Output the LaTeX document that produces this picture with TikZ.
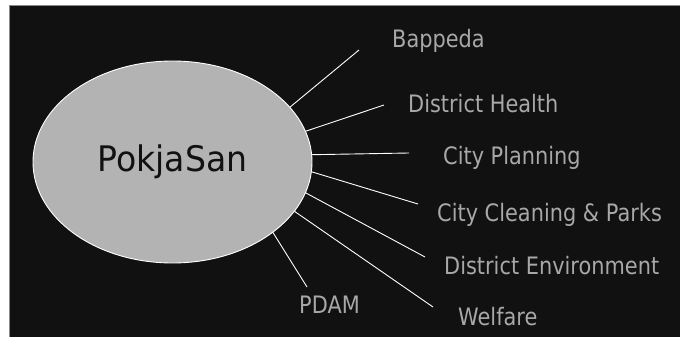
\documentclass[tikz,border=0pt]{standalone}
\usepackage{fontspec}
\newfontfamily\labelfont{DejaVu Sans}[FakeStretch=0.87]
\newfontfamily\titlefont{DejaVu Sans}[FakeStretch=0.94]
\usetikzlibrary{shapes.geometric}
\definecolor{panel}{HTML}{111111}
\definecolor{frameline}{HTML}{8A8A8A}
\definecolor{bubble}{HTML}{B3B3B3}
\definecolor{labeltext}{HTML}{A8A8A8}
\begin{document}
\begin{tikzpicture}[x=1pt,y=-1pt,
  member/.style={anchor=base west,inner sep=0pt,text=labeltext,
    font=\labelfont\fontsize{24}{28}\selectfont},
  spoke/.style={draw=white,line width=0.9pt},
  hub/.style={ellipse,draw=white,line width=0.9pt,fill=bubble,
    minimum width=279pt,minimum height=202pt,inner sep=0pt,outer sep=0pt,
    text=panel,font=\titlefont\fontsize{35.2}{40}\selectfont}]
  \useasboundingbox (0,0) rectangle (680,337);
  \clip (0,0) rectangle (680,337);
  % dark panel
  \fill[white] (0,0) rectangle (680,337);
  \draw[fill=panel,draw=frameline,line width=1pt] (9.5,5.5) rectangle (690,345);

  % central group
  \node[hub] (pk) at (172.5,162) {PokjaSan};

  % member agencies
  \node[member] (bappeda) at (392,48) {Bappeda};
  \node[member] (health)  at (408,112) {District Health};
  \node[member] (plan)    at (443,164) {City Planning};
  \node[member] (clean)   at (437,221) {City Cleaning \& Parks};
  \node[member] (env)     at (444,274) {District Environment};
  \node[member] (welfare) at (458,325) {Welfare};
  \node[member] (pdam)    at (299,313) {PDAM};

  % free ends of the spokes, just short of each label
  \coordinate (e1) at (359,50);
  \coordinate (e2) at (384,105);
  \coordinate (e3) at (409,153);
  \coordinate (e4) at (418,204);
  \coordinate (e5) at (425,257);
  \coordinate (e6) at (433,307);
  \coordinate (e7) at (307,287);

  \draw[spoke] (pk.25.7)  -- (e1);
  \draw[spoke] (pk.13.1)  -- (e2);
  \draw[spoke] (pk.3.7)   -- (e3);
  \draw[spoke] (pk.-4.4)  -- (e4);
  \draw[spoke] (pk.-13.9) -- (e5);
  \draw[spoke] (pk.-22.7) -- (e6);
  \draw[spoke] (pk.-35.6) -- (e7);
\end{tikzpicture}
\end{document}
